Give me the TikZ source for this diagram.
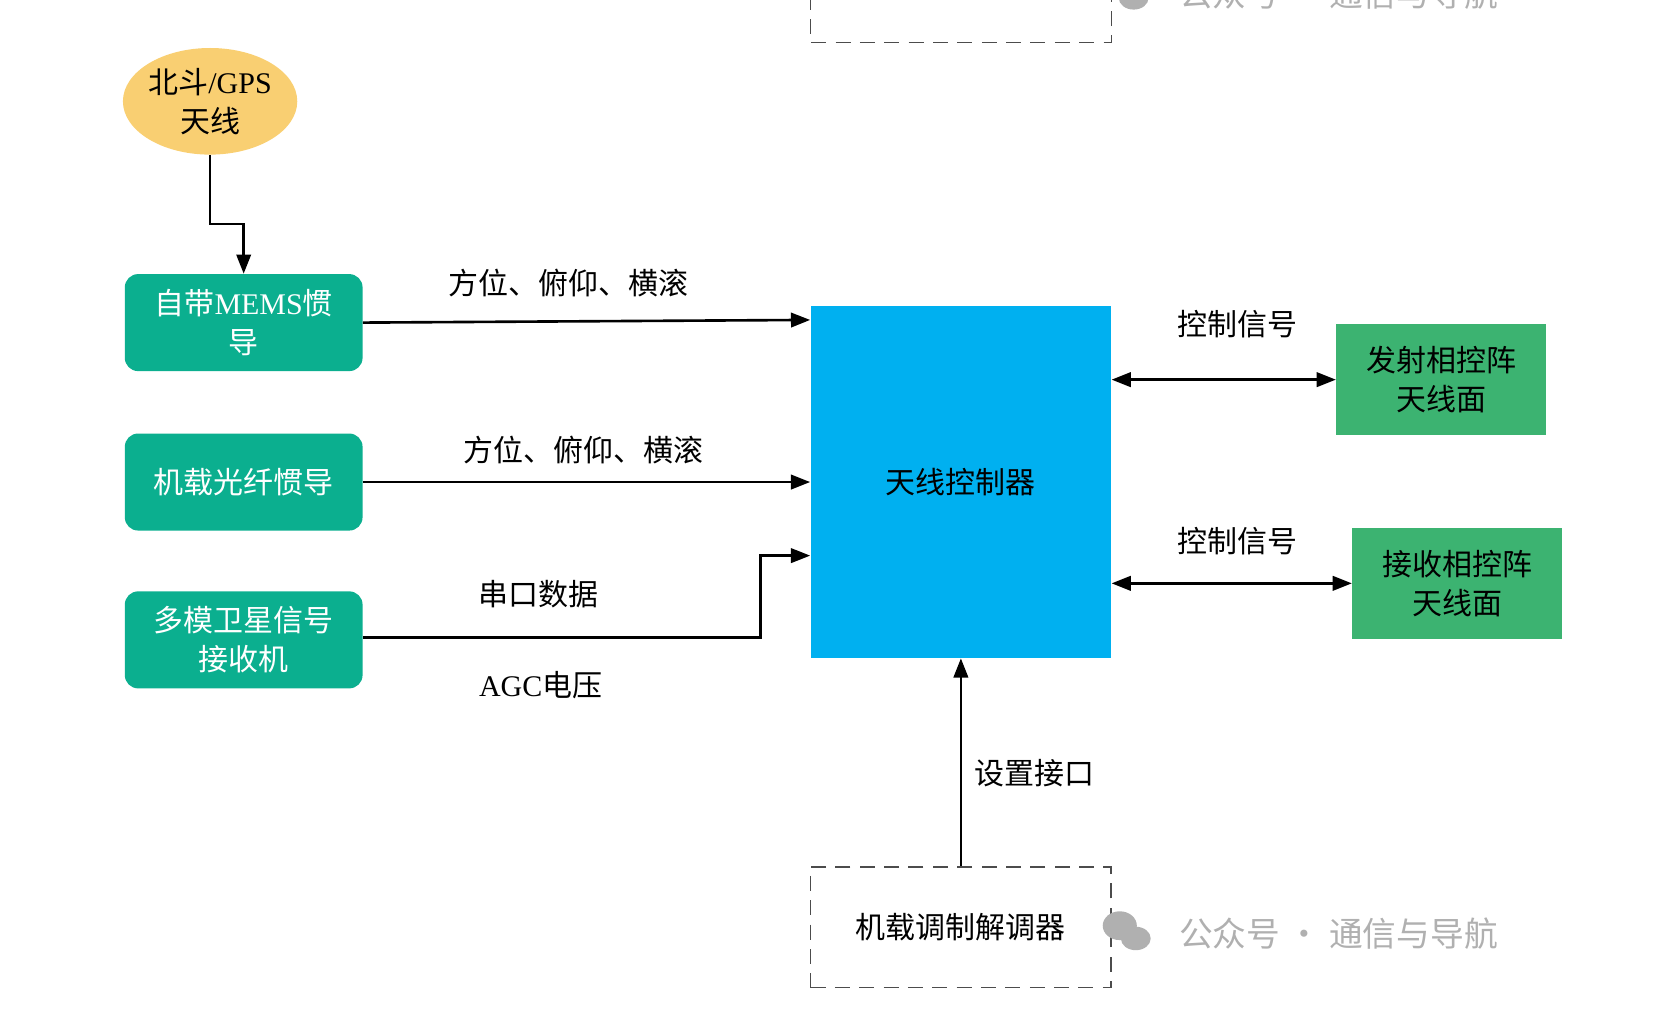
\documentclass[tikz,border=0pt]{standalone}
\usepackage{fontspec}
\setmainfont{Liberation Serif}
\newfontfamily\cjk{Noto Sans CJK SC}
\newcommand{\lat}[1]{{\rmfamily #1}}
\usetikzlibrary{arrows.meta,shapes.geometric}
\definecolor{teal1}{HTML}{0BAF8F}
\definecolor{blue1}{HTML}{00B0F0}
\definecolor{green1}{HTML}{3CB371}
\definecolor{yel}{HTML}{F9CF72}
\definecolor{wm}{HTML}{B0B0B0}
\begin{document}
\begin{tikzpicture}[x=0.02cm,y=-0.02cm,
  txt/.style={font=\cjk\fontsize{16}{21}\selectfont, align=center},
  tbox/.style={txt, draw=none, fill=teal1, text=white, rounded corners=0.25cm, minimum width=4.46cm, minimum height=1.82cm, inner sep=0pt},
  gbox/.style={txt, fill=green1, minimum width=3.94cm, minimum height=2.08cm, inner sep=0pt},
  dbox/.style={txt, draw=black!70, dashed, line width=0.8pt, dash pattern=on 8pt off 5pt},
  lab/.style={txt},
  arr/.style={line width=1.4pt, -{Triangle[length=0.36cm,width=0.27cm]}},
  barr/.style={line width=1.4pt, {Triangle[length=0.36cm,width=0.27cm]}-{Triangle[length=0.36cm,width=0.27cm]}},
  wmk/.style={font=\cjk\fontsize{18}{21}\selectfont, text=wm}
]
\useasboundingbox (0,0) rectangle (1565,959);
\node[txt, ellipse, fill=yel, minimum width=3.2cm, minimum height=2cm, inner sep=0pt] (gps) at (197,95) {北斗\lat{/GPS}\\天线};
\node[tbox] (mems) at (228.5,302.5) {自带\lat{MEMS}惯\\导};
\node[tbox] (fog) at (228.5,452) {机载光纤惯导};
\node[tbox] (rx) at (228.5,600) {多模卫星信号\\接收机};
\node[txt, fill=blue1, minimum width=5.64cm, minimum height=6.6cm, inner sep=0pt] (ctl) at (901,452) {天线控制器};
\node[gbox] (tx) at (1351.5,356) {发射相控阵\\天线面};
\node[gbox] (rcv) at (1366.5,547) {接收相控阵\\天线面};
\node[dbox, minimum width=5.64cm, minimum height=2.26cm] (mod) at (901,869.5) {机载调制解调器};
\draw[draw=black!70, line width=0.8pt, dash pattern=on 8pt off 5pt] (760,-5) -- (760,40) -- (1042,40) -- (1042,-5);
\draw[arr] (gps.south) -- (197,210) -| (mems.north);
\draw[arr] (mems.east) -- (ctl.west |- 0,300);
\draw[arr] (fog.east) -- (ctl.west |- fog.east);
\draw[arr] (rx.east |- 0,598) -- (713,598) -- (713,521) -- (ctl.west |- 0,521);
\draw[barr] (ctl.east |- tx.west) -- (tx.west);
\draw[barr] (ctl.east |- rcv.west) -- (rcv.west);
\draw[arr] (mod.north) -- (ctl.south);
\node[lab] (l1) at (533,265) {方位、俯仰、横滚};
\node[lab] (l2) at (547,422) {方位、俯仰、横滚};
\node[lab] (l3) at (505,557) {串口数据};
\node[lab] (l4) at (507,642) {\lat{AGC}电压};
\node[lab] (l5) at (1160,304) {控制信号};
\node[lab] (l6) at (1160,507) {控制信号};
\node[lab] (l7) at (970,725) {设置接口};
\fill[wm] (1050,868) ellipse (0.32cm and 0.27cm);
\fill[wm] (1065,880) ellipse (0.28cm and 0.22cm);
\node[wmk] (w1) at (1255,875) {公众号 · 通信与导航};
\fill[wm] (1063,-2) ellipse (0.28cm and 0.22cm);
\node[wmk] (w2) at (1255,-6) {公众号 · 通信与导航};
\end{tikzpicture}
\end{document}
